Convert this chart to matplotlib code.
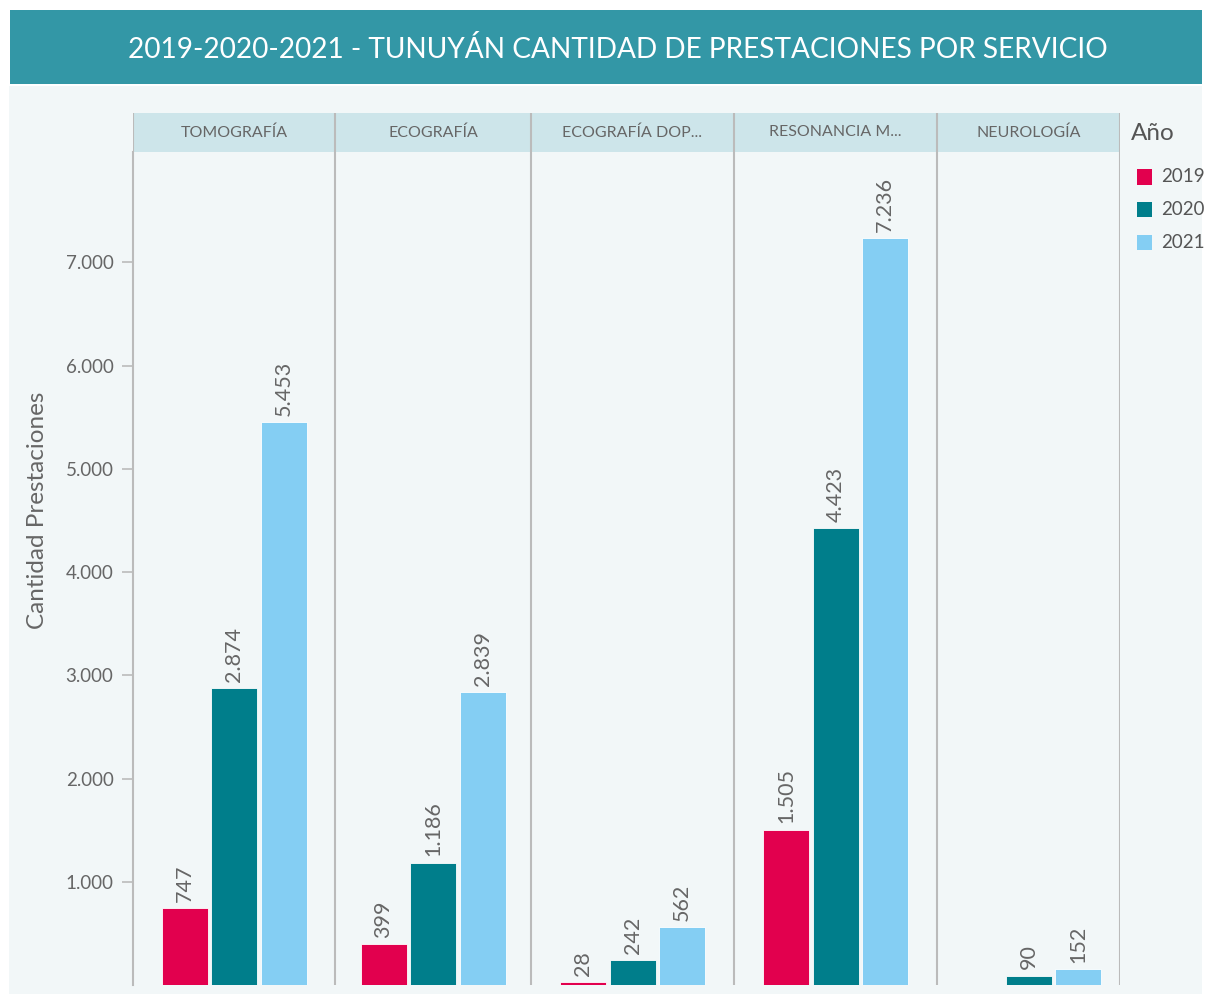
import matplotlib
matplotlib.use('Agg')
import matplotlib.pyplot as plt
from matplotlib.patches import Rectangle

plt.rcParams['font.family'] = ['Lato', 'DejaVu Sans']

# data
servicios = ['TOMOGRAFÍA', 'ECOGRAFÍA', 'ECOGRAFÍA DOP...', 'RESONANCIA M...', 'NEUROLOGÍA']
anios = ['2019', '2020', '2021']
v2019 = [747, 399, 28, 1505, None]
v2020 = [2874, 1186, 242, 4423, 90]
v2021 = [5453, 2839, 562, 7236, 152]
colores = ['#E2004E', '#007E8B', '#84CEF3']
yticks = [1000, 2000, 3000, 4000, 5000, 6000, 7000]

# layout: panel widths in pixels (panels are not all equal in the reference)
panel_w = [202, 196, 203, 203, 183]
bar_w, bar_step = 46, 49.5

W, H = 1207, 994
fig = plt.figure(figsize=(W / 100, H / 100), dpi=100, facecolor='white')

def fx(px):
    return px / W

def fy(py):
    return 1 - py / H

# background and title band (behind the axes)
fig.patches.append(Rectangle((fx(9), 0), fx(1202 - 9), fy(86), transform=fig.transFigure,
                             facecolor='#F2F7F8', edgecolor='none', zorder=-2))
fig.patches.append(Rectangle((fx(10), fy(84)), fx(1192), 74 / H, transform=fig.transFigure,
                             facecolor='#3397A6', edgecolor='none', zorder=-2))
fig.text(fx(618), fy(49), '2019-2020-2021 - TUNUYÁN CANTIDAD DE PRESTACIONES POR SERVICIO',
         color='white', fontsize=20.2, ha='center', va='center')

left = 133
total = sum(panel_w)
ax = fig.add_axes([fx(left), fy(985), fx(total), (985 - 152) / H])
hdr = fig.add_axes([fx(left), fy(152), fx(total), (152 - 113) / H])

edges = [0]
for w in panel_w:
    edges.append(edges[-1] + w)
centers = [(edges[i] + edges[i + 1]) / 2 for i in range(len(panel_w))]

ax.set_xlim(0, total)
ax.set_ylim(0, 8070)
ax.patch.set_alpha(0)
for s in ['top', 'right', 'bottom']:
    ax.spines[s].set_visible(False)
ax.spines['left'].set_color('#BBBBBB')
ax.spines['left'].set_linewidth(1.5)
ax.set_xticks([])
ax.set_yticks(yticks)
ax.set_yticklabels([f'{t:,}'.replace(',', '.') for t in yticks])
ax.tick_params(axis='y', colors='#BBBBBB', labelcolor='#666666', labelsize=13.5,
               length=8, width=1.2, pad=6)
ax.set_ylabel('Cantidad Prestaciones', color='#666666', fontsize=17.5)
ax.yaxis.set_label_coords(-0.086, 0.57)

for e in edges[1:]:
    ax.axvline(e, color='#BBBBBB', lw=1.5, zorder=1)

series = [v2019, v2020, v2021]
for j, vals in enumerate(series):
    for i, v in enumerate(vals):
        if v is None:
            continue
        xc = centers[i] + (j - 1) * bar_step
        ax.bar(xc, v, width=bar_w, color=colores[j], edgecolor='white', linewidth=0.6, zorder=2)
        ax.annotate(f'{v:,}'.replace(',', '.'), (xc, v), xytext=(0, 4.5),
                    textcoords='offset points', rotation=90, ha='center', va='bottom',
                    color='#666666', fontsize=15.5)

# facet header strip
hdr.set_xlim(0, total)
hdr.set_ylim(0, 1)
hdr.set_facecolor('#CDE5EA')
for s in hdr.spines.values():
    s.set_visible(False)
hdr.set_xticks([])
hdr.set_yticks([])
for e in edges:
    hdr.axvline(e, color='#BBBBBB', lw=1.5)
for i, name in enumerate(servicios):
    hdr.text(centers[i], 0.5, name, ha='center', va='center', color='#666666', fontsize=11.5)

# legend
fig.text(fx(1131), fy(133), 'Año', color='#555555', fontsize=17.5, ha='left', va='center')
for j, a in enumerate(anios):
    yc = 177 + j * 32.5
    fig.patches.append(Rectangle((fx(1137), fy(yc + 7.5)), fx(15), 15 / H, transform=fig.transFigure,
                                 facecolor=colores[j], edgecolor='none'))
    fig.text(fx(1161), fy(yc), a, color='#555555', fontsize=13.5, ha='left', va='center')

fig.savefig('out.png', dpi=100, facecolor='white')
